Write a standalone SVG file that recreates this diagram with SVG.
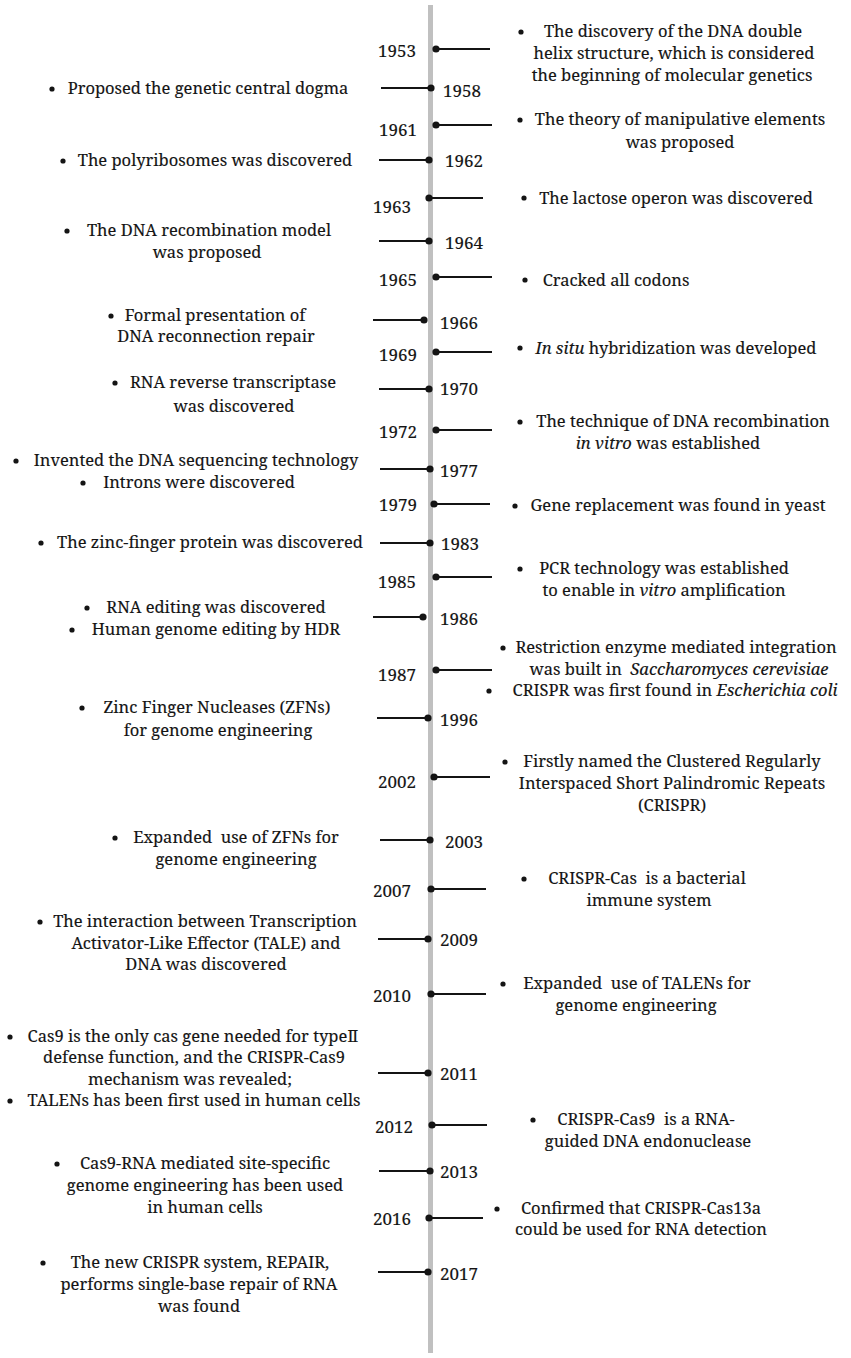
<svg xmlns="http://www.w3.org/2000/svg" width="851" height="1358" viewBox="0 0 851 1358">
<style>
text{font-family:"Noto Serif","DejaVu Serif",serif;font-size:16.5px;fill:#141414;white-space:pre;stroke:#141414;stroke-width:0.15}
.y{font-size:17px}
.m{text-anchor:middle}
.e{text-anchor:end}
.i{font-style:italic}
.b{fill:#141414}
#connectors line{stroke:#141414;stroke-width:2}
#connectors circle{fill:#141414}
</style>
<rect width="851" height="1358" fill="#ffffff"/>
<line id="axis" x1="430.5" y1="5" x2="430.5" y2="1353" stroke="#c0c0c0" stroke-width="5"/>
<g id="connectors">
<line x1="436" y1="49" x2="490" y2="49"/><circle cx="436" cy="49" r="3.6"/>
<line x1="381" y1="88" x2="431" y2="88"/><circle cx="431" cy="88" r="3.6"/>
<line x1="436" y1="125" x2="492" y2="125"/><circle cx="436" cy="125" r="3.6"/>
<line x1="379" y1="160" x2="429" y2="160"/><circle cx="429" cy="160" r="3.6"/>
<line x1="429" y1="198" x2="483" y2="198"/><circle cx="429" cy="198" r="3.6"/>
<line x1="379" y1="241" x2="429" y2="241"/><circle cx="429" cy="241" r="3.6"/>
<line x1="436" y1="277" x2="492" y2="277"/><circle cx="436" cy="277" r="3.6"/>
<line x1="373" y1="320" x2="424" y2="320"/><circle cx="424" cy="320" r="3.6"/>
<line x1="436" y1="352" x2="492" y2="352"/><circle cx="436" cy="352" r="3.6"/>
<line x1="379" y1="389" x2="429" y2="389"/><circle cx="429" cy="389" r="3.6"/>
<line x1="436" y1="430" x2="492" y2="430"/><circle cx="436" cy="430" r="3.6"/>
<line x1="380" y1="469" x2="430" y2="469"/><circle cx="430" cy="469" r="3.6"/>
<line x1="434" y1="504" x2="490" y2="504"/><circle cx="434" cy="504" r="3.6"/>
<line x1="380" y1="543" x2="430" y2="543"/><circle cx="430" cy="543" r="3.6"/>
<line x1="436" y1="577" x2="492" y2="577"/><circle cx="436" cy="577" r="3.6"/>
<line x1="373" y1="617" x2="423" y2="617"/><circle cx="423" cy="617" r="3.6"/>
<line x1="436" y1="670" x2="492" y2="670"/><circle cx="436" cy="670" r="3.6"/>
<line x1="377" y1="718" x2="428" y2="718"/><circle cx="428" cy="718" r="3.6"/>
<line x1="434" y1="777" x2="490" y2="777"/><circle cx="434" cy="777" r="3.6"/>
<line x1="380" y1="840" x2="430" y2="840"/><circle cx="430" cy="840" r="3.6"/>
<line x1="431" y1="889" x2="486" y2="889"/><circle cx="431" cy="889" r="3.6"/>
<line x1="378" y1="939" x2="428" y2="939"/><circle cx="428" cy="939" r="3.6"/>
<line x1="431" y1="994" x2="486" y2="994"/><circle cx="431" cy="994" r="3.6"/>
<line x1="378" y1="1073" x2="428" y2="1073"/><circle cx="428" cy="1073" r="3.6"/>
<line x1="432" y1="1125" x2="487" y2="1125"/><circle cx="432" cy="1125" r="3.6"/>
<line x1="379" y1="1171" x2="430" y2="1171"/><circle cx="430" cy="1171" r="3.6"/>
<line x1="429" y1="1218" x2="483" y2="1218"/><circle cx="429" cy="1218" r="3.6"/>
<line x1="378" y1="1272" x2="428" y2="1272"/><circle cx="428" cy="1272" r="3.6"/>
</g>
<g id="e1953"><text class="y e" x="416" y="57">1953</text><circle class="b" cx="521" cy="32" r="2.6"/><text class="m" x="673" y="37">The discovery of the DNA double</text><text class="m" x="674" y="59">helix structure, which is considered</text><text class="m" x="672" y="81">the beginning of molecular genetics</text></g>
<g id="e1958"><text class="y" x="443" y="97">1958</text><circle class="b" cx="52" cy="89" r="2.6"/><text class="m" x="208" y="94">Proposed the genetic central dogma</text></g>
<g id="e1961"><text class="y e" x="417" y="136">1961</text><circle class="b" cx="520" cy="120" r="2.6"/><text class="m" x="680" y="125">The theory of manipulative elements</text><text class="m" x="680" y="148">was proposed</text></g>
<g id="e1962"><text class="y" x="445" y="167">1962</text><circle class="b" cx="63" cy="161" r="2.6"/><text class="m" x="215" y="166">The polyribosomes was discovered</text></g>
<g id="e1963"><text class="y e" x="411" y="213">1963</text><circle class="b" cx="524" cy="198" r="2.6"/><text class="m" x="676" y="204">The lactose operon was discovered</text></g>
<g id="e1964"><text class="y" x="445" y="249">1964</text><circle class="b" cx="67" cy="231" r="2.6"/><text class="m" x="209" y="236">The DNA recombination model</text><text class="m" x="207" y="258">was proposed</text></g>
<g id="e1965"><text class="y e" x="417" y="286">1965</text><circle class="b" cx="525" cy="280" r="2.6"/><text class="m" x="616" y="286">Cracked all codons</text></g>
<g id="e1966"><text class="y" x="440" y="329">1966</text><circle class="b" cx="111" cy="316" r="2.6"/><text class="m" x="215" y="321">Formal presentation of</text><text class="m" x="216" y="342">DNA reconnection repair</text></g>
<g id="e1969"><text class="y e" x="417" y="361">1969</text><circle class="b" cx="520" cy="348" r="2.6"/><text class="m" x="676" y="354"><tspan class="i">In situ</tspan> hybridization was developed</text></g>
<g id="e1970"><text class="y" x="440" y="395">1970</text><circle class="b" cx="115" cy="383" r="2.6"/><text class="m" x="233" y="388">RNA reverse transcriptase</text><text class="m" x="234" y="412">was discovered</text></g>
<g id="e1972"><text class="y e" x="417" y="438">1972</text><circle class="b" cx="520" cy="422" r="2.6"/><text class="m" x="683" y="427">The technique of DNA recombination</text><text class="m" x="668" y="449"><tspan class="i">in vitro</tspan> was established</text></g>
<g id="e1977"><text class="y" x="440" y="477">1977</text><circle class="b" cx="16" cy="461" r="2.6"/><text class="m" x="196" y="466">Invented the DNA sequencing technology</text><circle class="b" cx="83" cy="483" r="2.6"/><text class="m" x="199" y="488">Introns were discovered</text></g>
<g id="e1979"><text class="y e" x="417" y="511">1979</text><circle class="b" cx="515" cy="506" r="2.6"/><text class="m" x="678" y="511">Gene replacement was found in yeast</text></g>
<g id="e1983"><text class="y" x="441" y="550">1983</text><circle class="b" cx="41" cy="543" r="2.6"/><text class="m" x="210" y="548">The zinc-finger protein was discovered</text></g>
<g id="e1985"><text class="y e" x="416" y="588">1985</text><circle class="b" cx="520" cy="569" r="2.6"/><text class="m" x="664" y="574">PCR technology was established</text><text class="m" x="664" y="596">to enable in <tspan class="i">vitro</tspan> amplification</text></g>
<g id="e1986"><text class="y" x="440" y="625">1986</text><circle class="b" cx="87" cy="608" r="2.6"/><text class="m" x="216" y="613">RNA editing was discovered</text><circle class="b" cx="72" cy="630" r="2.6"/><text class="m" x="216" y="635">Human genome editing by HDR</text></g>
<g id="e1987"><text class="y e" x="416" y="681">1987</text><circle class="b" cx="503" cy="648" r="2.6"/><text class="m" x="676" y="653">Restriction enzyme mediated integration</text><text class="m" x="679" y="675">was built in  <tspan class="i">Saccharomyces cerevisiae</tspan></text><circle class="b" cx="489" cy="691" r="2.6"/><text class="m" x="675" y="696">CRISPR was first found in <tspan class="i">Escherichia coli</tspan></text></g>
<g id="e1996"><text class="y" x="440" y="726">1996</text><circle class="b" cx="82" cy="708" r="2.6"/><text class="m" x="217" y="713">Zinc Finger Nucleases (ZFNs)</text><text class="m" x="218" y="736">for genome engineering</text></g>
<g id="e2002"><text class="y e" x="416" y="788">2002</text><circle class="b" cx="505" cy="762" r="2.6"/><text class="m" x="672" y="767">Firstly named the Clustered Regularly</text><text class="m" x="672" y="789">Interspaced Short Palindromic Repeats</text><text class="m" x="672" y="811">(CRISPR)</text></g>
<g id="e2003"><text class="y" x="445" y="848">2003</text><circle class="b" cx="115" cy="838" r="2.6"/><text class="m" x="236" y="843">Expanded  use of ZFNs for</text><text class="m" x="236" y="865">genome engineering</text></g>
<g id="e2007"><text class="y e" x="411" y="897">2007</text><circle class="b" cx="524" cy="879" r="2.6"/><text class="m" x="647" y="884">CRISPR-Cas  is a bacterial</text><text class="m" x="649" y="906">immune system</text></g>
<g id="e2009"><text class="y" x="440" y="946">2009</text><circle class="b" cx="40" cy="922" r="2.6"/><text class="m" x="205" y="927">The interaction between Transcription</text><text class="m" x="206" y="949">Activator-Like Effector (TALE) and</text><text class="m" x="206" y="970">DNA was discovered</text></g>
<g id="e2010"><text class="y e" x="411" y="1002">2010</text><circle class="b" cx="503" cy="984" r="2.6"/><text class="m" x="637" y="989">Expanded  use of TALENs for</text><text class="m" x="636" y="1011">genome engineering</text></g>
<g id="e2011"><text class="y" x="440" y="1080">2011</text><circle class="b" cx="10" cy="1037" r="2.6"/><text class="m" x="193" y="1042">Cas9 is the only cas gene needed for typeⅡ</text><text class="m" x="194" y="1063">defense function, and the CRISPR-Cas9</text><text class="m" x="190" y="1085">mechanism was revealed;</text><circle class="b" cx="10" cy="1101" r="2.6"/><text class="m" x="194" y="1106">TALENs has been first used in human cells</text></g>
<g id="e2012"><text class="y e" x="413" y="1133">2012</text><circle class="b" cx="533" cy="1120" r="2.6"/><text class="m" x="646" y="1125">CRISPR-Cas9  is a RNA-</text><text class="m" x="648" y="1147">guided DNA endonuclease</text></g>
<g id="e2013"><text class="y" x="440" y="1178">2013</text><circle class="b" cx="57" cy="1164" r="2.6"/><text class="m" x="205" y="1169">Cas9-RNA mediated site-specific</text><text class="m" x="205" y="1191">genome engineering has been used</text><text class="m" x="205" y="1213">in human cells</text></g>
<g id="e2016"><text class="y e" x="411" y="1225">2016</text><circle class="b" cx="497" cy="1209" r="2.6"/><text class="m" x="641" y="1214">Confirmed that CRISPR-Cas13a</text><text class="m" x="641" y="1235">could be used for RNA detection</text></g>
<g id="e2017"><text class="y" x="440" y="1280">2017</text><circle class="b" cx="43" cy="1263" r="2.6"/><text class="m" x="200" y="1268">The new CRISPR system, REPAIR,</text><text class="m" x="199" y="1290">performs single-base repair of RNA</text><text class="m" x="199" y="1312">was found</text></g>
</svg>
